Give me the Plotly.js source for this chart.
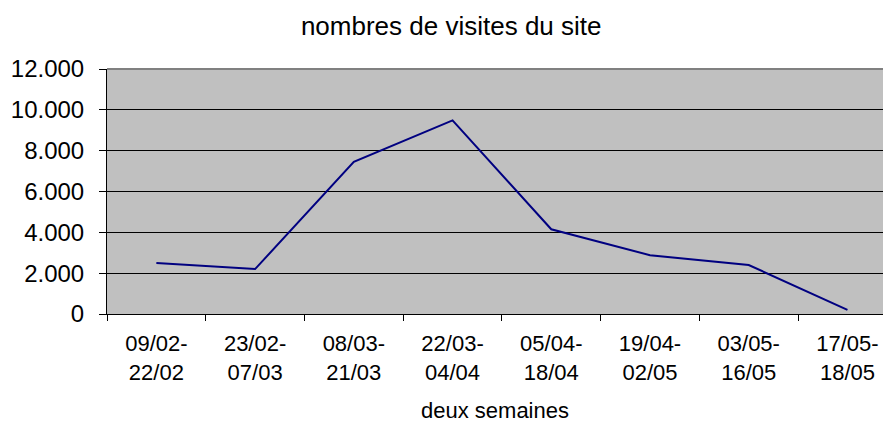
<!DOCTYPE html>
<html>
<head>
<meta charset="utf-8">
<script src="https://cdn.plot.ly/plotly-3.0.1.min.js"></script>
<style>html,body{margin:0;padding:0;background:#fff;}#chart{width:883px;height:425px;}</style>
</head>
<body>
<div id="chart"></div>
<script>
const categories = ["09/02-<br>22/02","23/02-<br>07/03","08/03-<br>21/03","22/03-<br>04/04","05/04-<br>18/04","19/04-<br>02/05","03/05-<br>16/05","17/05-<br>18/05"];
const visits = [2500, 2200, 7450, 9480, 4150, 2880, 2400, 200];
const yTickVals = [0, 2000, 4000, 6000, 8000, 10000, 12000];
const yTickText = ["0", "2.000", "4.000", "6.000", "8.000", "10.000", "12.000"];

const font = "Liberation Sans, Arial, sans-serif";

Plotly.newPlot("chart", [{
  x: categories,
  y: visits,
  type: "scatter",
  mode: "lines",
  line: {color: "#000080", width: 2},
  hoverinfo: "skip"
}], {
  width: 883, height: 425,
  margin: {l: 107, r: 0, t: 69, b: 111},
  paper_bgcolor: "#ffffff",
  plot_bgcolor: "#c0c0c0",
  showlegend: false,
  font: {family: font, color: "#000"},
  title: {text: "nombres de visites du site", font: {family: font, size: 26, color: "#000"},
          x: 0.511, xanchor: "center", y: 1 - 26/425, yanchor: "middle", xref: "container", yref: "container"},
  xaxis: {
    type: "category",
    range: [-0.5, 7.36],
    tickson: "boundaries",
    ticks: "outside", ticklen: 6, tickcolor: "#000", tickwidth: 1,
    showline: true, linecolor: "#000", linewidth: 1,
    showgrid: false, zeroline: false,
    tickfont: {family: font, size: 22, color: "#000"},
    ticklabelstandoff: 10,
    title: {text: "deux semaines", font: {family: font, size: 22, color: "#000"}, standoff: 18},
    fixedrange: true
  },
  yaxis: {
    range: [0, 12000],
    tickvals: yTickVals, ticktext: yTickText,
    ticks: "outside", ticklen: 7, tickcolor: "#000", tickwidth: 1,
    showline: true, linecolor: "#000", linewidth: 1,
    showgrid: true, gridcolor: "#000", gridwidth: 1,
    zeroline: false,
    tickfont: {family: font, size: 24, color: "#000"},
    ticklabelstandoff: 10,
    fixedrange: true
  },
  shapes: [{type: "line", xref: "paper", yref: "paper", x0: 0, x1: 1, y0: 1, y1: 1,
            line: {color: "#808080", width: 2}, layer: "above"}]
}, {displayModeBar: false, staticPlot: true});
</script>
</body>
</html>
